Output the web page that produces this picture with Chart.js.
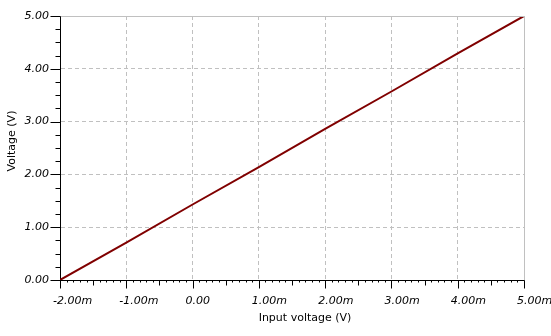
<!DOCTYPE html>
<html>
<head>
<meta charset="utf-8">
<script src="https://cdn.jsdelivr.net/npm/chart.js@4.4.1/dist/chart.umd.min.js"></script>
<style>
  html, body { margin: 0; padding: 0; background: #fff; }
  #wrap { width: 551px; height: 336px; }
</style>
</head>
<body>
<div id="wrap"><canvas id="chart" width="551" height="336"></canvas></div>
<script>
// --- data ---
const inputVoltage = [-2, -1, 0, 1, 2, 3, 4, 5];           // x, in mV
const outputVoltage = [0.00, 0.71, 1.43, 2.14, 2.86, 3.57, 4.29, 5.00]; // y, in V
const xTicks = [-2, -1, 0, 1, 2, 3, 4, 5];
const yTicks = [0, 1, 2, 3, 4, 5];
const xTitle = 'Input voltage (V)';
const yTitle = 'Voltage (V)';

const TICK_FONT = { family: 'DejaVu Sans', size: 11, style: 'italic' };
const TITLE_FONT = '11px "DejaVu Sans"';
const GRID = '#c0c0c0';

// ticks, outer frame and axis titles
const decorations = {
  id: 'decorations',
  afterDraw(chart) {
    const ctx = chart.ctx;
    const a = chart.chartArea;
    const xs = chart.scales.x, ys = chart.scales.y;
    ctx.save();
    // solid gray top and right edge
    ctx.strokeStyle = GRID;
    ctx.lineWidth = 1;
    ctx.beginPath();
    ctx.moveTo(Math.round(a.left) + 0.5, Math.round(a.top) + 0.5);
    ctx.lineTo(Math.round(a.right) + 0.5, Math.round(a.top) + 0.5);
    ctx.lineTo(Math.round(a.right) + 0.5, Math.round(a.bottom) + 0.5);
    ctx.stroke();

    // x ticks: major every 1m, medium every 0.5m, minor every 0.1m
    ctx.strokeStyle = '#000';
    ctx.beginPath();
    const yb = Math.round(a.bottom) + 0.5;
    for (let i = -20; i <= 50; i++) {
      const px = Math.round(xs.getPixelForValue(i / 10)) + 0.5;
      const len = i % 10 === 0 ? 8 : (i % 5 === 0 ? 5 : 2);
      ctx.moveTo(px, yb);
      ctx.lineTo(px, yb + len);
    }
    // y ticks: major every 1, minor every 0.25
    const xl = Math.round(a.left) + 0.5;
    for (let i = 0; i <= 20; i++) {
      const py = Math.round(ys.getPixelForValue(i / 4)) + 0.5;
      const len = i % 4 === 0 ? 10 : 5;
      ctx.moveTo(xl, py);
      ctx.lineTo(xl - len, py);
    }
    ctx.stroke();

    // axis titles
    ctx.fillStyle = '#000';
    ctx.font = TITLE_FONT;
    ctx.textAlign = 'center';
    ctx.textBaseline = 'middle';
    ctx.fillText(xTitle, 305, 318);
    ctx.translate(12, 141);
    ctx.rotate(-Math.PI / 2);
    ctx.fillText(yTitle, 0, 0);
    ctx.restore();
  }
};

new Chart(document.getElementById('chart'), {
  type: 'line',
  data: {
    datasets: [{
      data: inputVoltage.map((v, i) => ({ x: v, y: outputVoltage[i] })),
      borderColor: '#800000',
      borderWidth: 2,
      pointRadius: 0,
      tension: 0,
      fill: false
    }]
  },
  options: {
    responsive: false,
    animation: false,
    layout: { padding: { top: 16, right: 27, left: 0, bottom: 0 } },
    plugins: { legend: { display: false }, tooltip: { enabled: false } },
    scales: {
      x: {
        type: 'linear',
        min: -2,
        max: 5,
        afterFit(s) { s.height = 56; s.paddingLeft = 0; s.paddingRight = 0; },
        afterBuildTicks(s) { s.ticks = xTicks.map(v => ({ value: v })); },
        ticks: {
          color: '#000',
          font: TICK_FONT,
          padding: 15,
          maxRotation: 0,
          align: 'start',
          labelOffset: -7,
          callback: v => v === 0 ? '0.00' : v.toFixed(2) + 'm'
        },
        grid: { color: GRID, drawTicks: false, tickLength: 0 },
        border: { color: '#000', width: 1, dash: [4, 3] }
      },
      y: {
        type: 'linear',
        min: 0,
        max: 5,
        afterFit(s) { s.width = 60; s.paddingTop = 0; s.paddingBottom = 0; },
        afterBuildTicks(s) { s.ticks = yTicks.map(v => ({ value: v })); },
        ticks: {
          color: '#000',
          font: TICK_FONT,
          padding: 11,
          callback: v => v.toFixed(2)
        },
        grid: { color: GRID, drawTicks: false, tickLength: 0 },
        border: { color: '#000', width: 1, dash: [4, 3] }
      }
    }
  },
  plugins: [decorations]
});
</script>
</body>
</html>
